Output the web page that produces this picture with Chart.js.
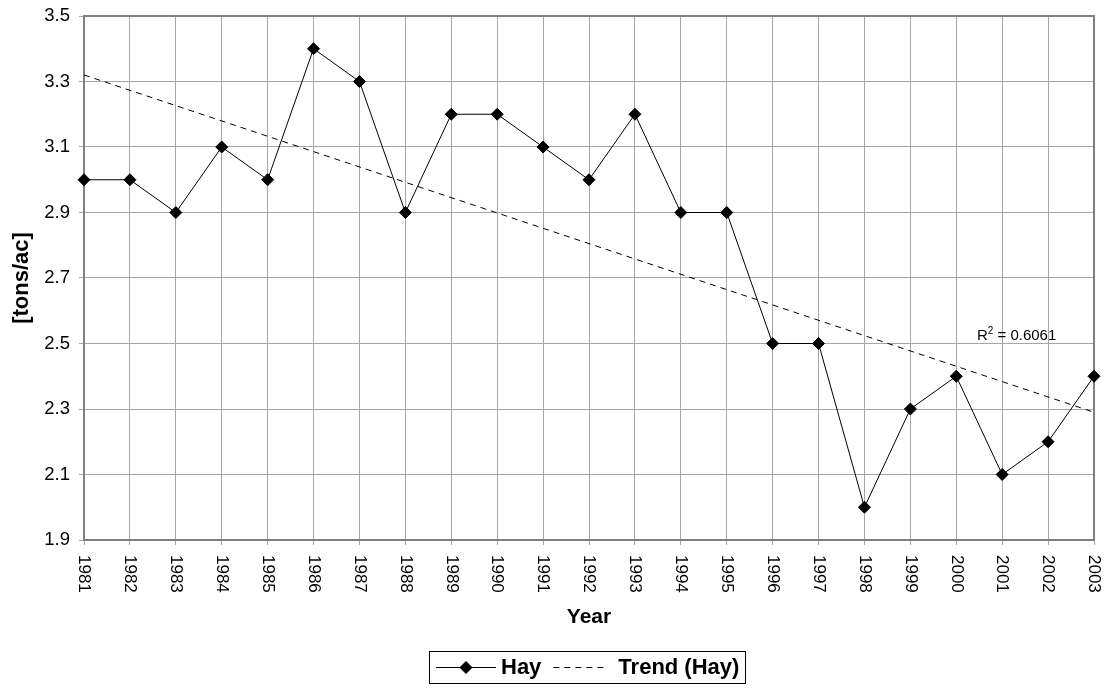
<!DOCTYPE html>
<html>
<head>
<meta charset="utf-8">
<script src="https://cdn.jsdelivr.net/npm/chart.js@4"></script>
<style>
html, body { margin: 0; padding: 0; background: #fff; }
#wrap { width: 1107px; height: 688px; }
</style>
</head>
<body>
<div id="wrap"><canvas id="hay-chart" width="1107" height="688"></canvas></div>
<script>
var years = ['1981', '1982', '1983', '1984', '1985', '1986', '1987', '1988', '1989', '1990', '1991', '1992',
             '1993', '1994', '1995', '1996', '1997', '1998', '1999', '2000', '2001', '2002', '2003'];
var hay = [3.0, 3.0, 2.9, 3.1, 3.0, 3.4, 3.3, 2.9, 3.2, 3.2, 3.1, 3.0,
           3.2, 2.9, 2.9, 2.5, 2.5, 2.0, 2.3, 2.4, 2.1, 2.2, 2.4];
// trend line as read at its two ends
var trendYears = ['1981', '2003'];
var trendValues = [3.32, 2.29];
var yTicks = [1.9, 2.1, 2.3, 2.5, 2.7, 2.9, 3.1, 3.3, 3.5];
var rSquared = '0.6061';

var FONT = "'Liberation Sans', Arial, sans-serif";
var GRID = '#a6a6a6';

function diamond(ctx, x, y, r) {
    ctx.beginPath();
    ctx.moveTo(x - r, y);
    ctx.lineTo(x, y - r);
    ctx.lineTo(x + r, y);
    ctx.lineTo(x, y + r);
    ctx.closePath();
    ctx.fill();
    ctx.stroke();
}

var decor = {
    id: 'decor',
    beforeDatasetsDraw: function(chart) {
        var a = chart.chartArea, ctx = chart.ctx;
        ctx.save();
        ctx.strokeStyle = '#808080';
        ctx.lineWidth = 2;
        ctx.strokeRect(a.left, a.top, a.right - a.left, a.bottom - a.top);
        ctx.restore();
    },
    afterDraw: function(chart) {
        var ctx = chart.ctx, xs = chart.scales.x, ys = chart.scales.y, a = chart.chartArea;
        ctx.save();
        ctx.fillStyle = '#000';
        ctx.strokeStyle = '#000';

        // year labels, turned to read downwards
        ctx.font = '17px ' + FONT;
        ctx.textAlign = 'left';
        ctx.textBaseline = 'middle';
        xs.ticks.forEach(function(t, i) {
            ctx.save();
            ctx.translate(xs.getPixelForTick(i), a.bottom + 15);
            ctx.rotate(Math.PI / 2);
            ctx.fillText(years[i], 0, 0);
            ctx.restore();
        });

        // R² note next to the trend
        var rx = xs.getPixelForValue(19.45), ry = ys.getPixelForValue(2.51);
        ctx.textBaseline = 'alphabetic';
        ctx.font = '15px ' + FONT;
        ctx.fillText('R', rx, ry);
        var w1 = ctx.measureText('R').width;
        ctx.font = '10px ' + FONT;
        ctx.fillText('2', rx + w1, ry - 6);
        var w2 = ctx.measureText('2').width;
        ctx.font = '15px ' + FONT;
        ctx.fillText(' = ' + rSquared, rx + w1 + w2, ry);

        // legend box
        ctx.font = 'bold 22px ' + FONT;
        var wHay = ctx.measureText('Hay').width;
        var wTrend = ctx.measureText('Trend (Hay)').width;
        var total = 7 + 60 + 5 + wHay + 12 + 52 + 13 + wTrend + 6;
        var bx = Math.round((a.left + a.right) / 2 - total / 2) - 2;
        var by = 651, bh = 32, cy = by + bh / 2;
        ctx.lineWidth = 1;
        ctx.strokeRect(bx + 0.5, by + 0.5, Math.round(total), bh);
        var cx = bx + 7;
        ctx.beginPath();
        ctx.moveTo(cx, cy + 0.5);
        ctx.lineTo(cx + 60, cy + 0.5);
        ctx.stroke();
        diamond(ctx, cx + 30, cy + 0.5, 6);
        cx += 65;
        ctx.textBaseline = 'middle';
        ctx.fillText('Hay', cx, cy + 1);
        cx += wHay + 12;
        ctx.setLineDash([6, 5]);
        ctx.beginPath();
        ctx.moveTo(cx, cy + 0.5);
        ctx.lineTo(cx + 52, cy + 0.5);
        ctx.stroke();
        ctx.setLineDash([]);
        cx += 65;
        ctx.fillText('Trend (Hay)', cx, cy + 1);
        ctx.restore();
    }
};

var ctx = document.getElementById('hay-chart');
var chart = new Chart(ctx, {
    type: 'line',
    data: {
        labels: years,
        datasets: [
            {
                label: 'Hay',
                data: hay,
                borderColor: '#000',
                backgroundColor: '#000',
                borderWidth: 1,
                pointStyle: 'rectRot',
                pointRadius: 6,
                pointBackgroundColor: '#000',
                pointBorderColor: '#000',
                pointBorderWidth: 1,
                tension: 0,
                clip: false
            },
            {
                label: 'Trend (Hay)',
                data: trendYears.map(function(y, i) { return {x: y, y: trendValues[i]}; }),
                borderColor: '#000',
                borderWidth: 1,
                borderDash: [6, 5],
                pointRadius: 0,
                tension: 0,
                clip: false
            }
        ]
    },
    options: {
        responsive: false,
        animation: false,
        layout: { padding: { top: 16, right: 13, left: 0, bottom: 0 } },
        plugins: {
            legend: { display: false },
            tooltip: { enabled: false }
        },
        scales: {
            x: {
                afterFit: function(s) { s.height = 148; s.paddingLeft = 0; s.paddingRight = 0; },
                ticks: { display: false },
                grid: { color: GRID, tickLength: 5 },
                border: { display: false },
                title: {
                    display: true,
                    text: 'Year',
                    color: '#000',
                    font: { family: FONT, size: 21, weight: 'bold' },
                    padding: { bottom: 58 }
                }
            },
            y: {
                min: 1.9,
                max: 3.5,
                afterFit: function(s) { s.width = 84; s.paddingTop = 0; s.paddingBottom = 0; },
                afterBuildTicks: function(s) {
                    s.ticks = yTicks.map(function(v) { return {value: v}; });
                },
                ticks: {
                    color: '#000',
                    font: { family: FONT, size: 18.5 },
                    padding: 9,
                    callback: function(v) { return v.toFixed(1); }
                },
                grid: { color: GRID, tickLength: 5 },
                border: { display: false },
                title: {
                    display: true,
                    text: '[tons/ac]',
                    color: '#000',
                    font: { family: FONT, size: 22, weight: 'bold' },
                    padding: { top: 9 }
                }
            }
        }
    },
    plugins: [decor]
});
</script>
</body>
</html>
